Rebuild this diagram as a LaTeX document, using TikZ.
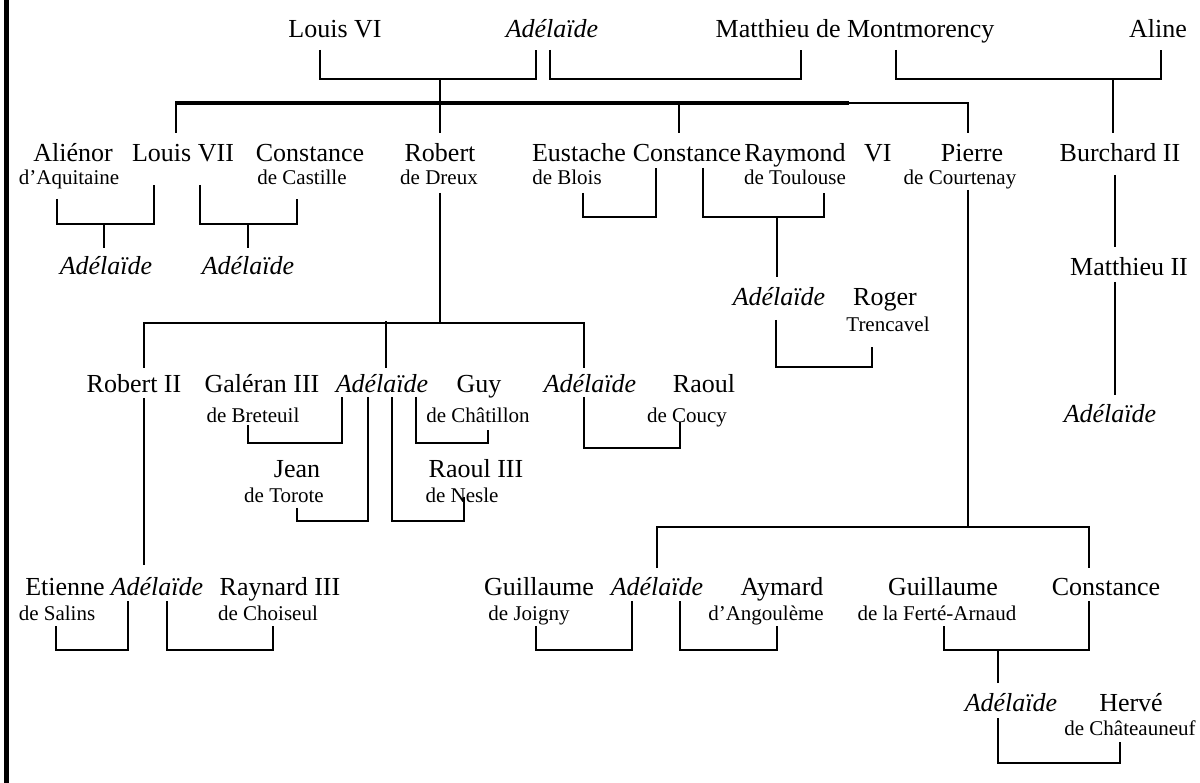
\documentclass[tikz,border=0pt]{standalone}
\usepackage{fontspec}
\setmainfont{Liberation Serif}
\begin{document}
\begin{tikzpicture}[x=1pt,y=-1pt,
  nm/.style={anchor=base, inner sep=0pt, font=\fontsize{26}{28}\selectfont},
  adel/.style={anchor=base, inner sep=0pt, font=\fontsize{26}{28}\selectfont\itshape},
  subt/.style={anchor=base, inner sep=0pt, font=\fontsize{21}{23}\selectfont},
  ln/.style={line width=2pt, line join=miter},
  heavy/.style={line width=4pt}]
\fill[white] (0,0) rectangle (1200,783);
\useasboundingbox (0,0) rectangle (1200,783);
% left margin rule
\fill[black] (4,0) rectangle (8.5,783);

% ---------- first generation ----------
\node[nm]   (louisVI) at (335,38) {Louis VI};
\node[adel] (adelA)   at (552,38) {Adélaïde};
\node[nm]   (montm)   at (855,38) {Matthieu de Montmorency};
\node[nm]   (aline)   at (1158,38) {Aline};

% ---------- second generation ----------
\node[nm]   (alienor)   at (73,162)  {Aliénor};
\node[subt] (alienorS)  at (69,185)  {d’Aquitaine};
\node[nm]   (louisVII)  at (183,162) {Louis VII};
\node[nm]   (castille)  at (310,162) {Constance};
\node[subt] (castilleS) at (302,185) {de Castille};
\node[nm]   (robert)    at (440,162) {Robert};
\node[subt] (robertS)   at (439,185) {de Dreux};
\node[nm]   (eustache)  at (579,162) {Eustache};
\node[subt] (eustacheS) at (567,185) {de Blois};
\node[nm]   (constB)    at (687,162) {Constance};
\node[nm]   (raymond)   at (818,162) {Raymond\hspace{12pt} VI};
\node[subt] (raymondS)  at (795,185) {de Toulouse};
\node[nm]   (pierre)    at (972,162) {Pierre};
\node[subt] (pierreS)   at (960,185) {de Courtenay};
\node[nm]   (burchard)  at (1120,162) {Burchard II};

\node[adel] (adelL1) at (106,275) {Adélaïde};
\node[adel] (adelL2) at (248,275) {Adélaïde};
\node[adel] (adelR)  at (779,306) {Adélaïde};
\node[nm]   (roger)  at (885,306) {Roger};
\node[subt] (rogerS) at (888,332) {Trencavel};
\node[nm]   (matthieuII) at (1129,276) {Matthieu II};
\node[adel] (adelM)  at (1110,423) {Adélaïde};

% ---------- house of Dreux ----------
\node[nm]   (robertII)  at (134,393) {Robert II};
\node[nm]   (galeran)   at (262,393) {Galéran III};
\node[subt] (galeranS)  at (253,423) {de Breteuil};
\node[adel] (adelC)     at (382,393) {Adélaïde};
\node[nm]   (guy)       at (479,393) {Guy};
\node[subt] (guyS)      at (478,423) {de Châtillon};
\node[adel] (adelD)     at (590,393) {Adélaïde};
\node[nm]   (raoul)     at (704,393) {Raoul};
\node[subt] (raoulS)    at (687,423) {de Coucy};
\node[nm]   (jean)      at (297,478) {Jean};
\node[subt] (jeanS)     at (284,503) {de Torote};
\node[nm]   (raoulIII)  at (476,478) {Raoul III};
\node[subt] (raoulIIIS) at (462,503) {de Nesle};

% ---------- lowest generations ----------
\node[nm]   (etienne)  at (65,595)  {Etienne};
\node[subt] (etienneS) at (57,620)  {de Salins};
\node[adel] (adelE)    at (157,595) {Adélaïde};
\node[nm]   (raynard)  at (280,595) {Raynard III};
\node[subt] (raynardS) at (268,620) {de Choiseul};
\node[nm]   (guillJ)   at (539,595) {Guillaume};
\node[subt] (guillJS)  at (529,620) {de Joigny};
\node[adel] (adelF)    at (657,595) {Adélaïde};
\node[nm]   (aymard)   at (782,595) {Aymard};
\node[subt] (aymardS)  at (766,620) {d’Angoulème};
\node[nm]   (guillF)   at (943,595) {Guillaume};
\node[subt] (guillFS)  at (937,620) {de la Ferté-Arnaud};
\node[nm]   (constD)   at (1106,595) {Constance};
\node[adel] (adelG)    at (1011,711) {Adélaïde};
\node[nm]   (herve)    at (1131,711) {Hervé};
\node[subt] (herveS)   at (1130,735) {de Châteauneuf};

% ---------- marriages of the first generation ----------
\draw[ln] ([shift={(-15,12)}]louisVI.base) -- ++(0,29) -| ([shift={(-16,12)}]adelA.base);
\draw[ln] ([shift={(-2,12)}]adelA.base) -- ++(0,29) -| ([shift={(-54,12)}]montm.base);
\draw[ln] ([shift={(41,12)}]montm.base) -- ++(0,29) -| ([shift={(3,12)}]aline.base);
\draw[ln] ([shift={(0,-29)}]robert.base) -- ++(0,-54);
\draw[ln] ([shift={(-7,-29)}]burchard.base) -- ++(0,-54);

% children of Louis VI
\coordinate (barL) at (175,103);
\coordinate (barR) at (849,103);
\draw[heavy] (barL) -- (barR);
\draw[ln] (barR) -| ([shift={(-4,-29)}]pierre.base);
\draw[ln] ([shift={(-7,-29)}]louisVII.base) -- ++(0,-30);
\draw[ln] ([shift={(-8,-29)}]constB.base) -- ++(0,-30);

% ---------- marriages of the second generation ----------
\draw[ln] ([shift={(-12,14)}]alienorS.base) -- ++(0,25) -| ([shift={(-29,23)}]louisVII.base);
\draw[ln] ([shift={(-2,-27)}]adelL1.base) -- ++(0,-24);
\draw[ln] ([shift={(17,23)}]louisVII.base) -- ++(0,39) -| ([shift={(-5,14)}]castilleS.base);
\draw[ln] ([shift={(0,-27)}]adelL2.base) -- ++(0,-24);
\draw[ln] ([shift={(16,8)}]eustacheS.base) -- ++(0,24) -| ([shift={(-31,6)}]constB.base);
\draw[ln] ([shift={(16,6)}]constB.base) -- ++(0,49) -| ([shift={(29,8)}]raymondS.base);
\draw[ln] ([shift={(-2,-29)}]adelR.base) -- ++(0,-60);
\draw[ln] ([shift={(-3,14)}]adelR.base) -- ++(0,47) -| ([shift={(-16,15)}]rogerS.base);
\draw[ln] ([shift={(-5,13)}]burchard.base) -- ([shift={(-14,-29)}]matthieuII.base);
\draw[ln] ([shift={(-14,6)}]matthieuII.base) -- ([shift={(5,-28)}]adelM.base);

% ---------- children of Robert de Dreux ----------
\draw[ln] ([shift={(1,8)}]robertS.base) -- ++(0,130);
\draw[ln] ([shift={(10,-25)}]robertII.base) -- ++(0,-45) -| ([shift={(-6,-25)}]adelD.base);
\draw[ln] ([shift={(4,-25)}]adelC.base) -- ++(0,-47);
\draw[ln] ([shift={(-5,2)}]galeranS.base) -- ++(0,18) -| ([shift={(-40,4)}]adelC.base);
\draw[ln] ([shift={(34,4)}]adelC.base) -- ++(0,46) -| ([shift={(10,7)}]guyS.base);
\draw[ln] ([shift={(-6,4)}]adelD.base) -- ++(0,51) -| ([shift={(-7,-1)}]raoulS.base);
\draw[ln] ([shift={(-14,4)}]adelC.base) -- ++(0,124) -| ([shift={(13,5)}]jeanS.base);
\draw[ln] ([shift={(10,4)}]adelC.base) -- ++(0,124) -| ([shift={(2,-6)}]raoulIIIS.base);
\draw[ln] ([shift={(10,5)}]robertII.base) -- ([shift={(-13,-30)}]adelE.base);
\draw[ln] ([shift={(-1,6)}]etienneS.base) -- ++(0,24) -| ([shift={(-29,6)}]adelE.base);
\draw[ln] ([shift={(10,6)}]adelE.base) -- ++(0,49) -| ([shift={(5,6)}]raynardS.base);

% ---------- children of Pierre de Courtenay ----------
\draw[ln] ([shift={(8,5)}]pierreS.base) -- ++(0,337);
\draw[ln] ([shift={(0,-27)}]adelF.base) -- ++(0,-41) -| ([shift={(-17,-27)}]constD.base);
\draw[ln] ([shift={(7,6)}]guillJS.base) -- ++(0,24) -| ([shift={(-25,6)}]adelF.base);
\draw[ln] ([shift={(23,6)}]adelF.base) -- ++(0,49) -| ([shift={(11,6)}]aymardS.base);
\draw[ln] ([shift={(7,6)}]guillFS.base) -- ++(0,24) -| ([shift={(-17,6)}]constD.base);
\draw[ln] ([shift={(-13,-28)}]adelG.base) -- ++(0,-33);
\draw[ln] ([shift={(-13,7)}]adelG.base) -- ++(0,45) -| ([shift={(-10,7)}]herveS.base);
\end{tikzpicture}
\end{document}
